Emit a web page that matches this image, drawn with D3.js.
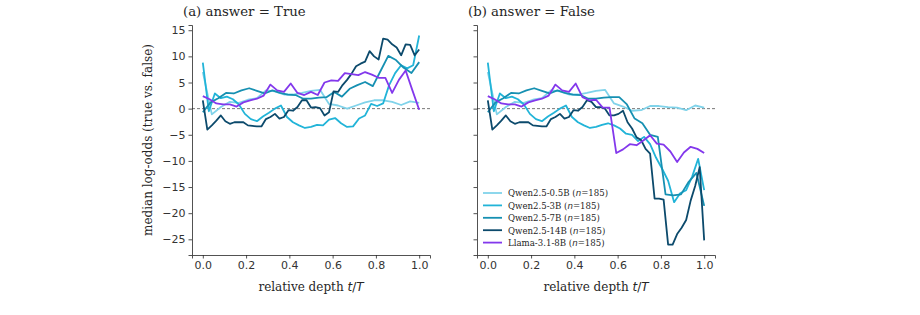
<!DOCTYPE html>
<html>
<head>
<meta charset="utf-8">
<script src="https://cdn.jsdelivr.net/npm/d3@7"></script>
<style>
  body { margin: 0; background: #fff; }
  svg text { fill: #262626; }
</style>
</head>
<body>
<div id="chart"></div>
<script>
// data (median log-odds per layer, x = layer / last layer)
var models = ['Qwen2.5-0.5B', 'Qwen2.5-3B', 'Qwen2.5-7B', 'Qwen2.5-14B', 'Llama-3.1-8B'];
var xTicks = [0, 0.2, 0.4, 0.6, 0.8, 1.0];
var yTicks = [15, 10, 5, 0, -5, -10, -15, -20, -25];

// answer = True
var q05True = [7.0, -1.1, 0.3, 1.3, 1.1, 1.7, 2.0, 3.5, 3.3, 2.7, 2.7, 3.0, 3.4, 3.6, 0.9, 0.6, 0.0, 0.6, 1.2, 1.6, 1.6, 1.3, 0.7, 1.4, 1.1];
var q3True = [8.8, -0.5, 2.9, 2.0, 2.3, 1.8, 0.8, -1.0, -2.0, -2.4, -1.5, -0.8, 0.0, 0.6, -1.6, -2.6, -3.2, -3.7, -3.5, -3.1, -3.2, -2.1, -1.8, -2.8, -3.5, -3.4, -1.9, -1.3, 0.9, 0.5, 1.0, 4.5, 6.8, 8.3, 7.7, 8.3, 14.0];
var q7True = [-0.7, 1.2, 2.0, 3.0, 2.9, 3.5, 3.9, 3.4, 2.9, 3.5, 3.0, 2.7, 2.6, 1.9, 1.9, 2.1, 2.2, 3.2, 2.3, 3.8, 4.5, 5.1, 4.3, 7.2, 10.1, 9.3, 7.8, 6.8, 8.9];
var q14True = [1.6, -4.0, -3.2, -2.3, -1.3, -2.4, -2.9, -2.6, -2.6, -2.6, -3.2, -3.3, -3.4, -3.4, -2.0, -1.6, -1.0, -1.9, -1.6, -0.3, -0.4, 0.3, 1.6, 1.6, 0.2, 0.3, 0.1, -1.3, -0.7, 3.3, 3.2, 4.5, 5.5, 6.7, 8.1, 8.6, 9.0, 11.0, 10.0, 9.4, 13.4, 13.2, 12.3, 11.7, 10.2, 12.3, 12.2, 10.2, 11.3];
var llamaTrue = [2.4, 1.8, 1.0, 0.8, 0.8, 0.4, 1.2, 1.6, 1.9, 2.5, 4.6, 3.5, 3.2, 4.8, 3.0, 2.6, 3.2, 2.6, 5.0, 5.4, 5.3, 6.8, 6.6, 6.4, 7.0, 6.5, 5.9, 5.9, 3.0, 5.5, 7.3, 3.5, -0.2];

// answer = False
var q05False = [7.0, -1.1, 0.3, 1.3, 1.1, 1.7, 2.0, 3.5, 3.3, 2.7, 2.7, 3.0, 3.4, 3.6, 1.0, 0.4, -0.4, -0.3, 0.5, 0.5, 0.3, 0.2, -0.3, 0.6, 0.2];
var q3False = [8.8, -0.5, 2.9, 2.0, 2.3, 1.8, 0.8, -1.0, -2.0, -2.4, -1.5, -0.8, 0.0, 0.6, -1.6, -2.6, -3.2, -3.7, -3.5, -3.1, -2.8, -3.2, -3.8, -4.8, -5.0, -6.2, -5.4, -6.8, -9.4, -11.5, -13.8, -17.9, -16.2, -15.6, -13.0, -9.6, -15.6];
var q7False = [-0.7, 1.2, 2.0, 3.0, 2.9, 3.5, 3.9, 3.4, 2.9, 3.5, 3.0, 2.7, 2.6, 1.9, 1.9, 2.1, 2.2, 2.2, 0.8, -1.9, -2.8, -5.0, -5.4, -16.4, -16.6, -16.4, -14.0, -12.3, -18.6];
var q14False = [1.6, -4.0, -3.2, -2.3, -1.3, -2.4, -2.9, -2.6, -2.6, -2.6, -3.2, -3.3, -3.4, -3.4, -2.0, -1.6, -1.0, -1.9, -1.6, -0.3, -0.4, 0.3, 1.6, 1.3, 0.3, 0.3, 0.0, -1.3, -1.3, -1.0, -0.4, -2.6, -3.8, -5.5, -6.0, -7.7, -8.6, -17.2, -17.2, -17.4, -26.0, -26.0, -24.0, -22.8, -21.3, -17.6, -14.8, -11.2, -25.2];
var llamaFalse = [2.4, 1.8, 1.0, 0.8, 0.8, 0.4, 1.2, 1.6, 1.9, 2.5, 4.6, 3.5, 3.2, 4.8, 2.2, 1.6, 1.7, 0.2, 0.2, -8.5, -7.8, -6.8, -7.0, -6.1, -5.1, -6.7, -6.9, -8.2, -10.2, -8.4, -7.3, -7.7, -8.5];

var colors = ['#80d3ea', '#22b4d8', '#1690b2', '#0c4a6c', '#8338ec'];

var panels = [
    { title: '(a) answer = True', series: [q05True, q3True, q7True, q14True, llamaTrue], left: 192, yLabels: true },
    { title: '(b) answer = False', series: [q05False, q3False, q7False, q14False, llamaFalse], left: 477, yLabels: false, legend: true }
];

var svgWidth = 920;
var svgHeight = 315;
var plotWidth = 238;
var plotTop = 25;
var plotBottom = 255;

var svg = d3.select('#chart')
    .append('svg')
    .attr('width', svgWidth)
    .attr('height', svgHeight);

// shared y range, matplotlib-style 5% padding
var allVals = d3.merge(panels.map(p => d3.merge(p.series)));
var ext = d3.extent(allVals);
var pad = (ext[1] - ext[0]) * 0.05;

var yScale = d3.scaleLinear()
    .domain([ext[0] - pad, ext[1] + pad])
    .range([plotBottom, plotTop]);

var serif = '"DejaVu Serif", serif';
var sans = '"DejaVu Sans", sans-serif';

panels.forEach(function(p) {
    var xScale = d3.scaleLinear()
        .domain([-0.05, 1.05])
        .range([p.left, p.left + plotWidth]);

    var g = svg.append('g');

    // zero line
    g.append('line')
        .attr('x1', p.left)
        .attr('x2', p.left + plotWidth)
        .attr('y1', yScale(0))
        .attr('y2', yScale(0))
        .attr('stroke', '#555')
        .attr('stroke-width', 0.8)
        .attr('stroke-dasharray', '3,2');

    var line = d3.line()
        .x(d => xScale(d.t))
        .y(d => yScale(d.v));

    p.series.forEach(function(vals, k) {
        var pts = vals.map((v, i) => ({ t: i / (vals.length - 1), v: v }));
        g.append('path')
            .datum(pts)
            .attr('d', line)
            .attr('fill', 'none')
            .attr('stroke', colors[k])
            .attr('stroke-width', 1.8)
            .attr('stroke-linejoin', 'round');
    });

    // axes
    var bottomAxis = d3.axisBottom(xScale)
        .tickValues(xTicks)
        .tickFormat(d3.format('.1f'))
        .tickSizeOuter(0)
        .tickSize(3.5)
        .tickPadding(3);

    var leftAxis = d3.axisLeft(yScale)
        .tickValues(yTicks)
        .tickFormat(p.yLabels ? (d => d < 0 ? '\u2212' + Math.abs(d) : d) : '')
        .tickSizeOuter(0)
        .tickSize(3.5)
        .tickPadding(3);

    var xa = g.append('g')
        .attr('transform', `translate(0, ${plotBottom})`)
        .call(bottomAxis);
    var ya = g.append('g')
        .attr('transform', `translate(${p.left}, 0)`)
        .call(leftAxis);

    [xa, ya].forEach(function(a) {
        a.selectAll('text').attr('font-family', sans).attr('font-size', 11).style('fill', '#333');
        a.selectAll('line').attr('stroke', '#262626').attr('stroke-width', 0.8);
        a.select('.domain').attr('stroke', '#262626').attr('stroke-width', 0.8);
    });

    // title
    g.append('text')
        .attr('x', p.left - 9)
        .attr('y', 16)
        .attr('font-family', serif)
        .attr('font-size', 13.3)
        .text(p.title);

    // x label
    var xl = g.append('text')
        .attr('x', xScale(0.5))
        .attr('y', 291)
        .attr('text-anchor', 'middle')
        .attr('font-family', serif)
        .attr('font-size', 12);
    xl.append('tspan').text('relative depth ');
    xl.append('tspan').attr('font-family', sans).attr('font-style', 'italic').text('t');
    xl.append('tspan').attr('font-family', sans).text('/');
    xl.append('tspan').attr('font-family', sans).attr('font-style', 'italic').text('T');

    if (p.yLabels) {
        g.append('text')
            .attr('transform', `translate(152, ${(plotTop + plotBottom) / 2}) rotate(-90)`)
            .attr('text-anchor', 'middle')
            .attr('font-family', serif)
            .attr('font-size', 12)
            .text('median log-odds (true vs. false)');
    }

    if (p.legend) {
        var leg = g.append('g').attr('transform', `translate(${p.left + 6}, 193)`);
        models.forEach(function(m, k) {
            var row = leg.append('g').attr('transform', `translate(0, ${k * 12.4})`);
            row.append('line')
                .attr('x1', 0).attr('x2', 19)
                .attr('stroke', colors[k])
                .attr('stroke-width', 1.8);
            var tx = row.append('text')
                .attr('x', 25)
                .attr('y', 3.3)
                .attr('font-family', serif)
                .attr('font-size', 8.6);
            tx.append('tspan').text(m + ' (');
            tx.append('tspan').attr('font-family', sans).attr('font-style', 'italic').text('n');
            tx.append('tspan').text('=185)');
        });
    }
});
</script>
</body>
</html>
